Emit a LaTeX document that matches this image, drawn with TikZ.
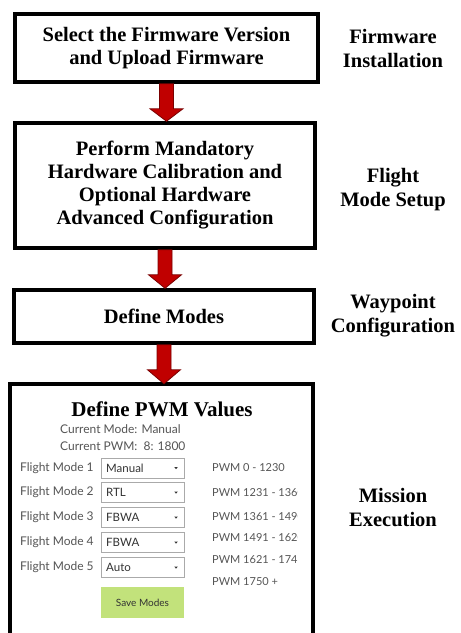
\documentclass[tikz,border=0pt]{standalone}
\usepackage{fontspec}
\setmainfont{Liberation Serif}[BoldFont={Liberation Serif Bold}]
\newfontfamily\serifb{Liberation Serif Bold}
\newfontfamily\uisans{Lato}
\usetikzlibrary{calc}
\definecolor{arrred}{HTML}{C00000}
\definecolor{arrdark}{HTML}{7A0000}
\definecolor{uigray}{HTML}{555555}
\definecolor{uitext}{HTML}{333333}
\definecolor{ddborder}{HTML}{AAAAAA}
\definecolor{btngreen}{HTML}{C2E27B}
\newcommand\blkarrow[2]{%
  \path[fill=arrred,draw=arrdark,line width=0.8]
    ($(#1.south)+(-7,0)$) -- ($(#1.south)+(-7,25)$) -- ($(#1.south)+(-16.5,25)$)
    -- ($(#1.south |- #2.north)$)
    -- ($(#1.south)+(16.5,25)$) -- ($(#1.south)+(7,25)$) -- ($(#1.south)+(7,0)$) -- cycle;}
\begin{document}
\begin{tikzpicture}[x=1pt,y=-1pt,
  stagebox/.style={draw, line width=3.5, fill=white, align=center, inner sep=0,
    font=\serifb\fontsize{20.5}{23}\selectfont},
  sidelabel/.style={align=center, inner sep=0, font=\serifb\fontsize{20.5}{24}\selectfont},
  uilabel/.style={anchor=west, inner sep=0, text=uigray, font=\uisans\fontsize{12}{14}\selectfont},
  pwmlabel/.style={anchor=west, inner sep=0, text=uigray, font=\uisans\fontsize{11}{13}\selectfont},
  dropdown/.style={draw=ddborder, line width=0.8, fill=white, minimum width=83, minimum height=20,
    inner sep=0, anchor=west},
  ddtext/.style={anchor=west, inner sep=0, text=uitext, font=\uisans\fontsize{11.5}{13}\selectfont},
]
\useasboundingbox (0,0) rectangle (461,633);
\fill[white] (0,0) rectangle (461,633);

% main boxes
\node[stagebox, minimum width=303, minimum height=68] (box1) at (166.5,48)
  {Select the Firmware Version\\and Upload Firmware};
\node[stagebox, minimum width=300, minimum height=125] (box2) at (165,185.5)
  {Perform Mandatory\\Hardware Calibration and\\Optional Hardware\\Advanced Configuration};
\node[stagebox, minimum width=300, minimum height=53] (box3) at (164,316.5)
  {Define Modes};
\node[minimum width=303, minimum height=256, inner sep=0] (box4) at (161.5,512) {};
\draw[line width=3.5] (box4.south west) -- (box4.north west) -- (box4.north east) -- (box4.south east);

% arrows
\blkarrow{box1}{box2}
\blkarrow{box2}{box3}
\blkarrow{box3}{box4}

% side labels
\node[sidelabel] (lab1) at (393,48) {Firmware\\Installation};
\node[sidelabel] (lab2) at (393,190) {Flight\\Mode Setup};
\node[sidelabel] (lab3) at (393,316) {Waypoint\\Configuration};
\node[sidelabel] (lab4) at (393,508) {Mission\\Execution};

% PWM panel
\node[inner sep=0, font=\serifb\fontsize{21}{24}\selectfont] (pwmtitle) at (162,409) {Define PWM Values};
\node[uilabel] (curmode) at (60,429) {Current Mode: Manual};
\node[uilabel] (curpwm) at (60,446) {Current PWM:\ \ 8: 1800};

\node[uilabel] (fm1) at (20,468) {Flight Mode 1};
\node[uilabel] (fm2) at (20,492) {Flight Mode 2};
\node[uilabel] (fm3) at (20,517) {Flight Mode 3};
\node[uilabel] (fm4) at (20,542) {Flight Mode 4};
\node[uilabel] (fm5) at (20,567) {Flight Mode 5};

\foreach \i/\y/\t in {1/468/Manual, 2/492.5/RTL, 3/517.5/FBWA, 4/542.5/FBWA, 5/567.5/Auto}{
  \node[dropdown] (dd\i) at (101,\y) {};
  \node[ddtext] (dt\i) at (106,\y) {\t};
  \fill[uitext] ($(dd\i.east)+(-10.5,-1)$) -- ++(3.5,0) -- ++(-1.75,2.2) -- cycle;
}

\node[fill=btngreen, minimum width=83, minimum height=31, inner sep=0, text=uitext,
  font=\uisans\fontsize{10}{12}\selectfont] (save) at (142.5,602.5) {Save Modes};

\begin{scope}
\clip (200,455) rectangle (297,595);
\node[pwmlabel] (p1) at (212,468) {PWM 0 - 1230};
\node[pwmlabel] (p2) at (212,493) {PWM 1231 - 1360};
\node[pwmlabel] (p3) at (212,517) {PWM 1361 - 1490};
\node[pwmlabel] (p4) at (212,538) {PWM 1491 - 1620};
\node[pwmlabel] (p5) at (212,560) {PWM 1621 - 1749};
\node[pwmlabel] (p6) at (212,582) {PWM 1750 +};
\end{scope}
\end{tikzpicture}
\end{document}
